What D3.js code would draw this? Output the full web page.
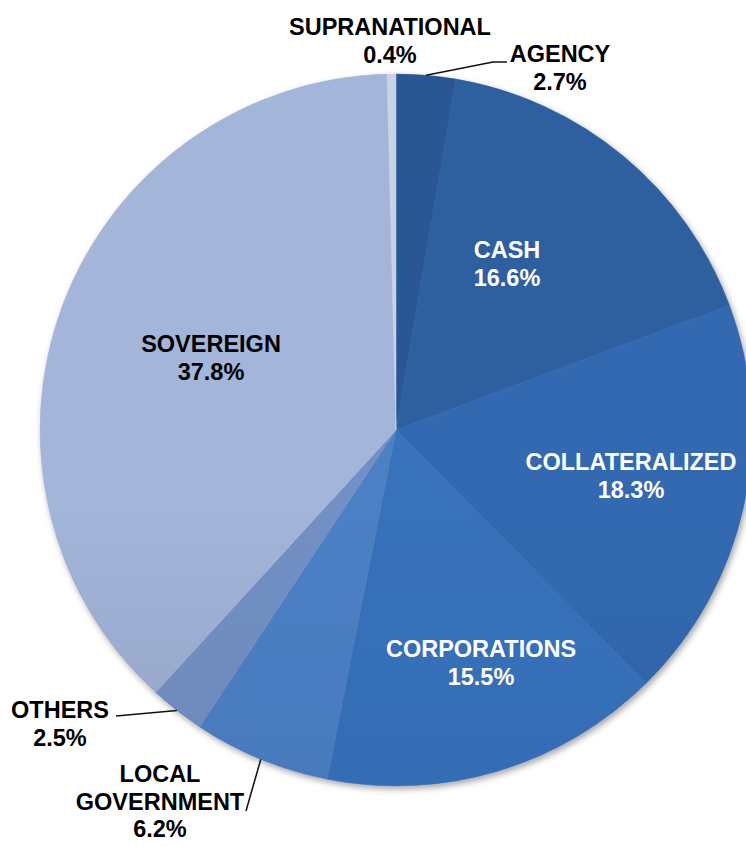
<!DOCTYPE html>
<html>
<head>
<meta charset="utf-8">
<script src="https://cdn.jsdelivr.net/npm/d3@7"></script>
<style>
  body { margin: 0; background: #fff; }
  text { font-family: "Liberation Sans", Arial, sans-serif; font-weight: bold; font-size: 23.5px; }
</style>
</head>
<body>
<svg id="chart"></svg>
<script>
// slices, clockwise from 12 o'clock
const categories = ['AGENCY', 'CASH', 'COLLATERALIZED', 'CORPORATIONS', 'LOCAL GOVERNMENT', 'OTHERS', 'SOVEREIGN', 'SUPRANATIONAL'];
const shares = [2.7, 16.6, 18.3, 15.5, 6.2, 2.5, 37.8, 0.4];
const percentLabels = ['2.7%', '16.6%', '18.3%', '15.5%', '6.2%', '2.5%', '37.8%', '0.4%'];

// colours, top and bottom of the vertical shading
const colorTop = ['#2b5793', '#2e5f9f', '#3369b0', '#3772bb', '#4c80c4', '#7290c4', '#a3b5d9', '#c9d3e8'];
const colorBottom = ['#27508a', '#2a5896', '#2a5a9a', '#3065ab', '#4270b4', '#6780b0', '#7a8aaa', '#b5c0d8'];
const textColor = ['#000', '#fff', '#fff', '#fff', '#000', '#000', '#000', '#000'];

// label anchors (centre x, first baseline), leader line ends
const labelLayout = {
    'AGENCY': { x: 560, y: 62, line: [[493, 62], [507, 62]] },
    'CASH': { x: 507, y: 258 },
    'COLLATERALIZED': { x: 631, y: 470 },
    'CORPORATIONS': { x: 481, y: 657 },
    'LOCAL GOVERNMENT': { x: 160, y: 782, lines: ['LOCAL', 'GOVERNMENT'], line: [[246, 811]] },
    'OTHERS': { x: 60, y: 718, line: [[116, 716]] },
    'SOVEREIGN': { x: 211, y: 352 },
    'SUPRANATIONAL': { x: 390, y: 35 }
};

const width = 746;
const height = 846;
const cx = 396;
const cy = 430;
const radius = 356;
const lineHeight = 27.5;

const svg = d3.select('#chart')
    .attr('width', width)
    .attr('height', height);

const defs = svg.append('defs');

// soft shadow round the pie
const shadow = defs.append('filter')
    .attr('id', 'shadow')
    .attr('x', '-10%').attr('y', '-10%')
    .attr('width', '120%').attr('height', '120%');
shadow.append('feDropShadow')
    .attr('dx', 2).attr('dy', 3)
    .attr('stdDeviation', 3)
    .attr('flood-color', '#000')
    .attr('flood-opacity', 0.35);

categories.forEach((c, i) => {
    const grad = defs.append('linearGradient')
        .attr('id', `grad${i}`)
        .attr('gradientUnits', 'userSpaceOnUse')
        .attr('x1', 0).attr('x2', 0)
        .attr('y1', cy - radius).attr('y2', cy + radius);
    grad.append('stop').attr('offset', 0).attr('stop-color', colorTop[i]);
    grad.append('stop').attr('offset', 1).attr('stop-color', colorBottom[i]);
});

const data = categories.map((key, i) => ({ key, value: shares[i], i }));

const pie = d3.pie().value((d) => d.value).sort(null);
const arc = d3.arc().innerRadius(0).outerRadius(radius);
const edgeArc = d3.arc().innerRadius(radius).outerRadius(radius);

const pied = pie(data);

const g = svg.append('g')
    .attr('transform', `translate(${cx},${cy})`);

g.append('g')
    .attr('filter', 'url(#shadow)')
    .selectAll('path')
    .data(pied)
    .enter().append('path')
    .attr('d', arc)
    .attr('fill', (d) => `url(#grad${d.data.i})`)
    .attr('stroke', (d) => `url(#grad${d.data.i})`)
    .attr('stroke-width', 0.5);

// leader lines from the slice edge to the label
pied.forEach((d) => {
    const lay = labelLayout[d.data.key];
    if (!lay.line) return;
    const start = edgeArc.centroid(d);
    const pts = [[start[0] + cx, start[1] + cy]].concat(lay.line);
    svg.append('path')
        .attr('d', d3.line()(pts))
        .attr('fill', 'none')
        .attr('stroke', '#111')
        .attr('stroke-width', 1.5);
});

// labels
const labels = svg.append('g');
pied.forEach((d) => {
    const lay = labelLayout[d.data.key];
    const lines = (lay.lines || [d.data.key]).concat([percentLabels[d.data.i]]);
    const t = labels.append('text')
        .attr('text-anchor', 'middle')
        .attr('fill', textColor[d.data.i]);
    lines.forEach((s, k) => {
        t.append('tspan')
            .attr('x', lay.x)
            .attr('y', lay.y + k * lineHeight)
            .text(s);
    });
});
</script>
</body>
</html>
